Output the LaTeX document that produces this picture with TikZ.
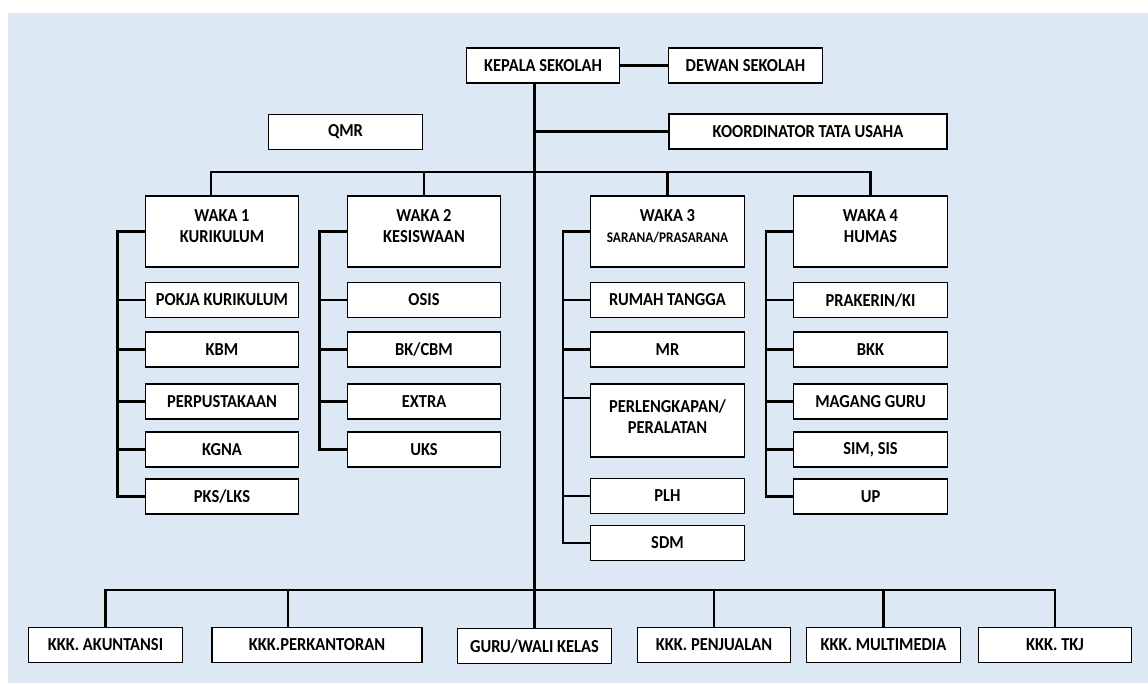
\documentclass[tikz,border=0pt]{standalone}
\usepackage{fontspec}
\setmainfont{Carlito}[FakeStretch=0.9]
\usepackage{tikz}
\usetikzlibrary{positioning}
\definecolor{bgblue}{RGB}{221,232,245}

\begin{document}
\begin{tikzpicture}[x=0.025cm,y=-0.025cm,
  box/.style={draw,fill=white,line width=0.9pt,inner sep=1pt,align=center,
    font=\bfseries\fontsize{13}{15}\selectfont,
    minimum width=3.84cm,minimum height=0.88cm},
  wakabox/.style={box,minimum height=1.78cm},
  link/.style={line width=1.5pt}]

\useasboundingbox (0,0) rectangle (1148,683);
\fill[bgblue] (8,13) rectangle (1148,683);

% top
\node[box] (kepala) at (543,65.5) {KEPALA SEKOLAH};
\node[box] (dewan) at (745.5,65.5) {DEWAN SEKOLAH};
\node[box,minimum width=6.95cm] (koord) at (808,131.5) {KOORDINATOR TATA USAHA};
\node[box] (qmr) at (345.5,132) {QMR};

% waka
\node[wakabox] (w1) at (222,231.5) {WAKA 1\\KURIKULUM\\[-7pt]};
\node[wakabox] (w2) at (424,231.5) {WAKA 2\\KESISWAAN\\[-7pt]};
\node[wakabox] (w3) at (667.5,231.5) {WAKA 3\\{\fontsize{10.5}{12}\selectfont SARANA/PRASARANA}\\[-7pt]};
\node[wakabox] (w4) at (870.5,231.5) {WAKA 4\\HUMAS\\[-7pt]};

% waka 1
\node[box] (pokja) at (222,300) {POKJA KURIKULUM};
\node[box] (kbm) at (222,349.5) {KBM};
\node[box] (pustaka) at (222,401.5) {PERPUSTAKAAN};
\node[box] (kgna) at (222,449.5) {KGNA};
\node[box] (pks) at (222,496.5) {PKS/LKS};

% waka 2
\node[box] (osis) at (424,300) {OSIS};
\node[box] (bk) at (424,349.5) {BK/CBM};
\node[box] (extra) at (424,401.5) {EXTRA};
\node[box] (uks) at (424,449.5) {UKS};

% waka 3
\node[box] (rumah) at (667.5,300) {RUMAH TANGGA};
\node[box] (mr) at (667.5,349.5) {MR};
\node[box,minimum height=1.83cm] (perl) at (667.5,420.5) {PERLENGKAPAN/\\PERALATAN\\[-9pt]};
\node[box] (plh) at (667.5,496) {PLH};
\node[box] (sdm) at (667.5,543) {SDM};

% waka 4
\node[box] (prakerin) at (870.5,300) {PRAKERIN/KI};
\node[box] (bkk) at (870.5,349.5) {BKK};
\node[box] (magang) at (870.5,401.5) {MAGANG GURU};
\node[box] (sim) at (870.5,449.5) {SIM, SIS};
\node[box] (up) at (870.5,496.5) {UP};

% bottom row
\node[box] (akun) at (105.5,645) {KKK. AKUNTANSI};
\node[box,minimum width=5.25cm] (perk) at (317,645) {KKK.PERKANTORAN};
\node[box] (guru) at (534.5,646) {GURU/WALI KELAS};
\node[box] (penj) at (714,645) {KKK. PENJUALAN};
\node[box] (multi) at (883.5,645) {KKK. MULTIMEDIA};
\node[box] (tkj) at (1055,645) {KKK. TKJ};

\coordinate (topbus) at (534,172);
\coordinate (lowbus) at (534,590);

\draw[link] (kepala) -- (dewan);
\draw[link] (guru.north |- kepala.south) -- (guru.north);
\draw[link] (koord.west) -- (koord.west -| guru.north);
\draw[link] (w1.107) |- (topbus) -| (w4.north);
\draw[link] (w2.north) -- (w2.north |- topbus);
\draw[link] (w3.north) -- (w3.north |- topbus);

\draw[link] (w1.west) -- ++(-27,0) |- (pks.west);
\foreach \n in {pokja,kbm,pustaka,kgna}
  \draw[link] (\n.west) -- ++(-27,0);
\draw[link] (w2.west) -- ++(-27,0) |- (uks.west);
\foreach \n in {osis,bk,extra}
  \draw[link] (\n.west) -- ++(-27,0);
\draw[link] (w3.west) -- ++(-27,0) |- (sdm.west);
\foreach \n in {rumah.west,mr.west,perl.164,plh.west}
  \draw[link] (\n) -- ++(-27,0);
\draw[link] (w4.west) -- ++(-27,0) |- (up.west);
\foreach \n in {prakerin,bkk,magang,sim}
  \draw[link] (\n.west) -- ++(-27,0);

\draw[link] (akun.north) |- (lowbus) -| (tkj.north);
\draw[link] (perk.148) -- (perk.148 |- lowbus);
\draw[link] (penj.north) -- (penj.north |- lowbus);
\draw[link] (multi.north) -- (multi.north |- lowbus);

\end{tikzpicture}
\end{document}
